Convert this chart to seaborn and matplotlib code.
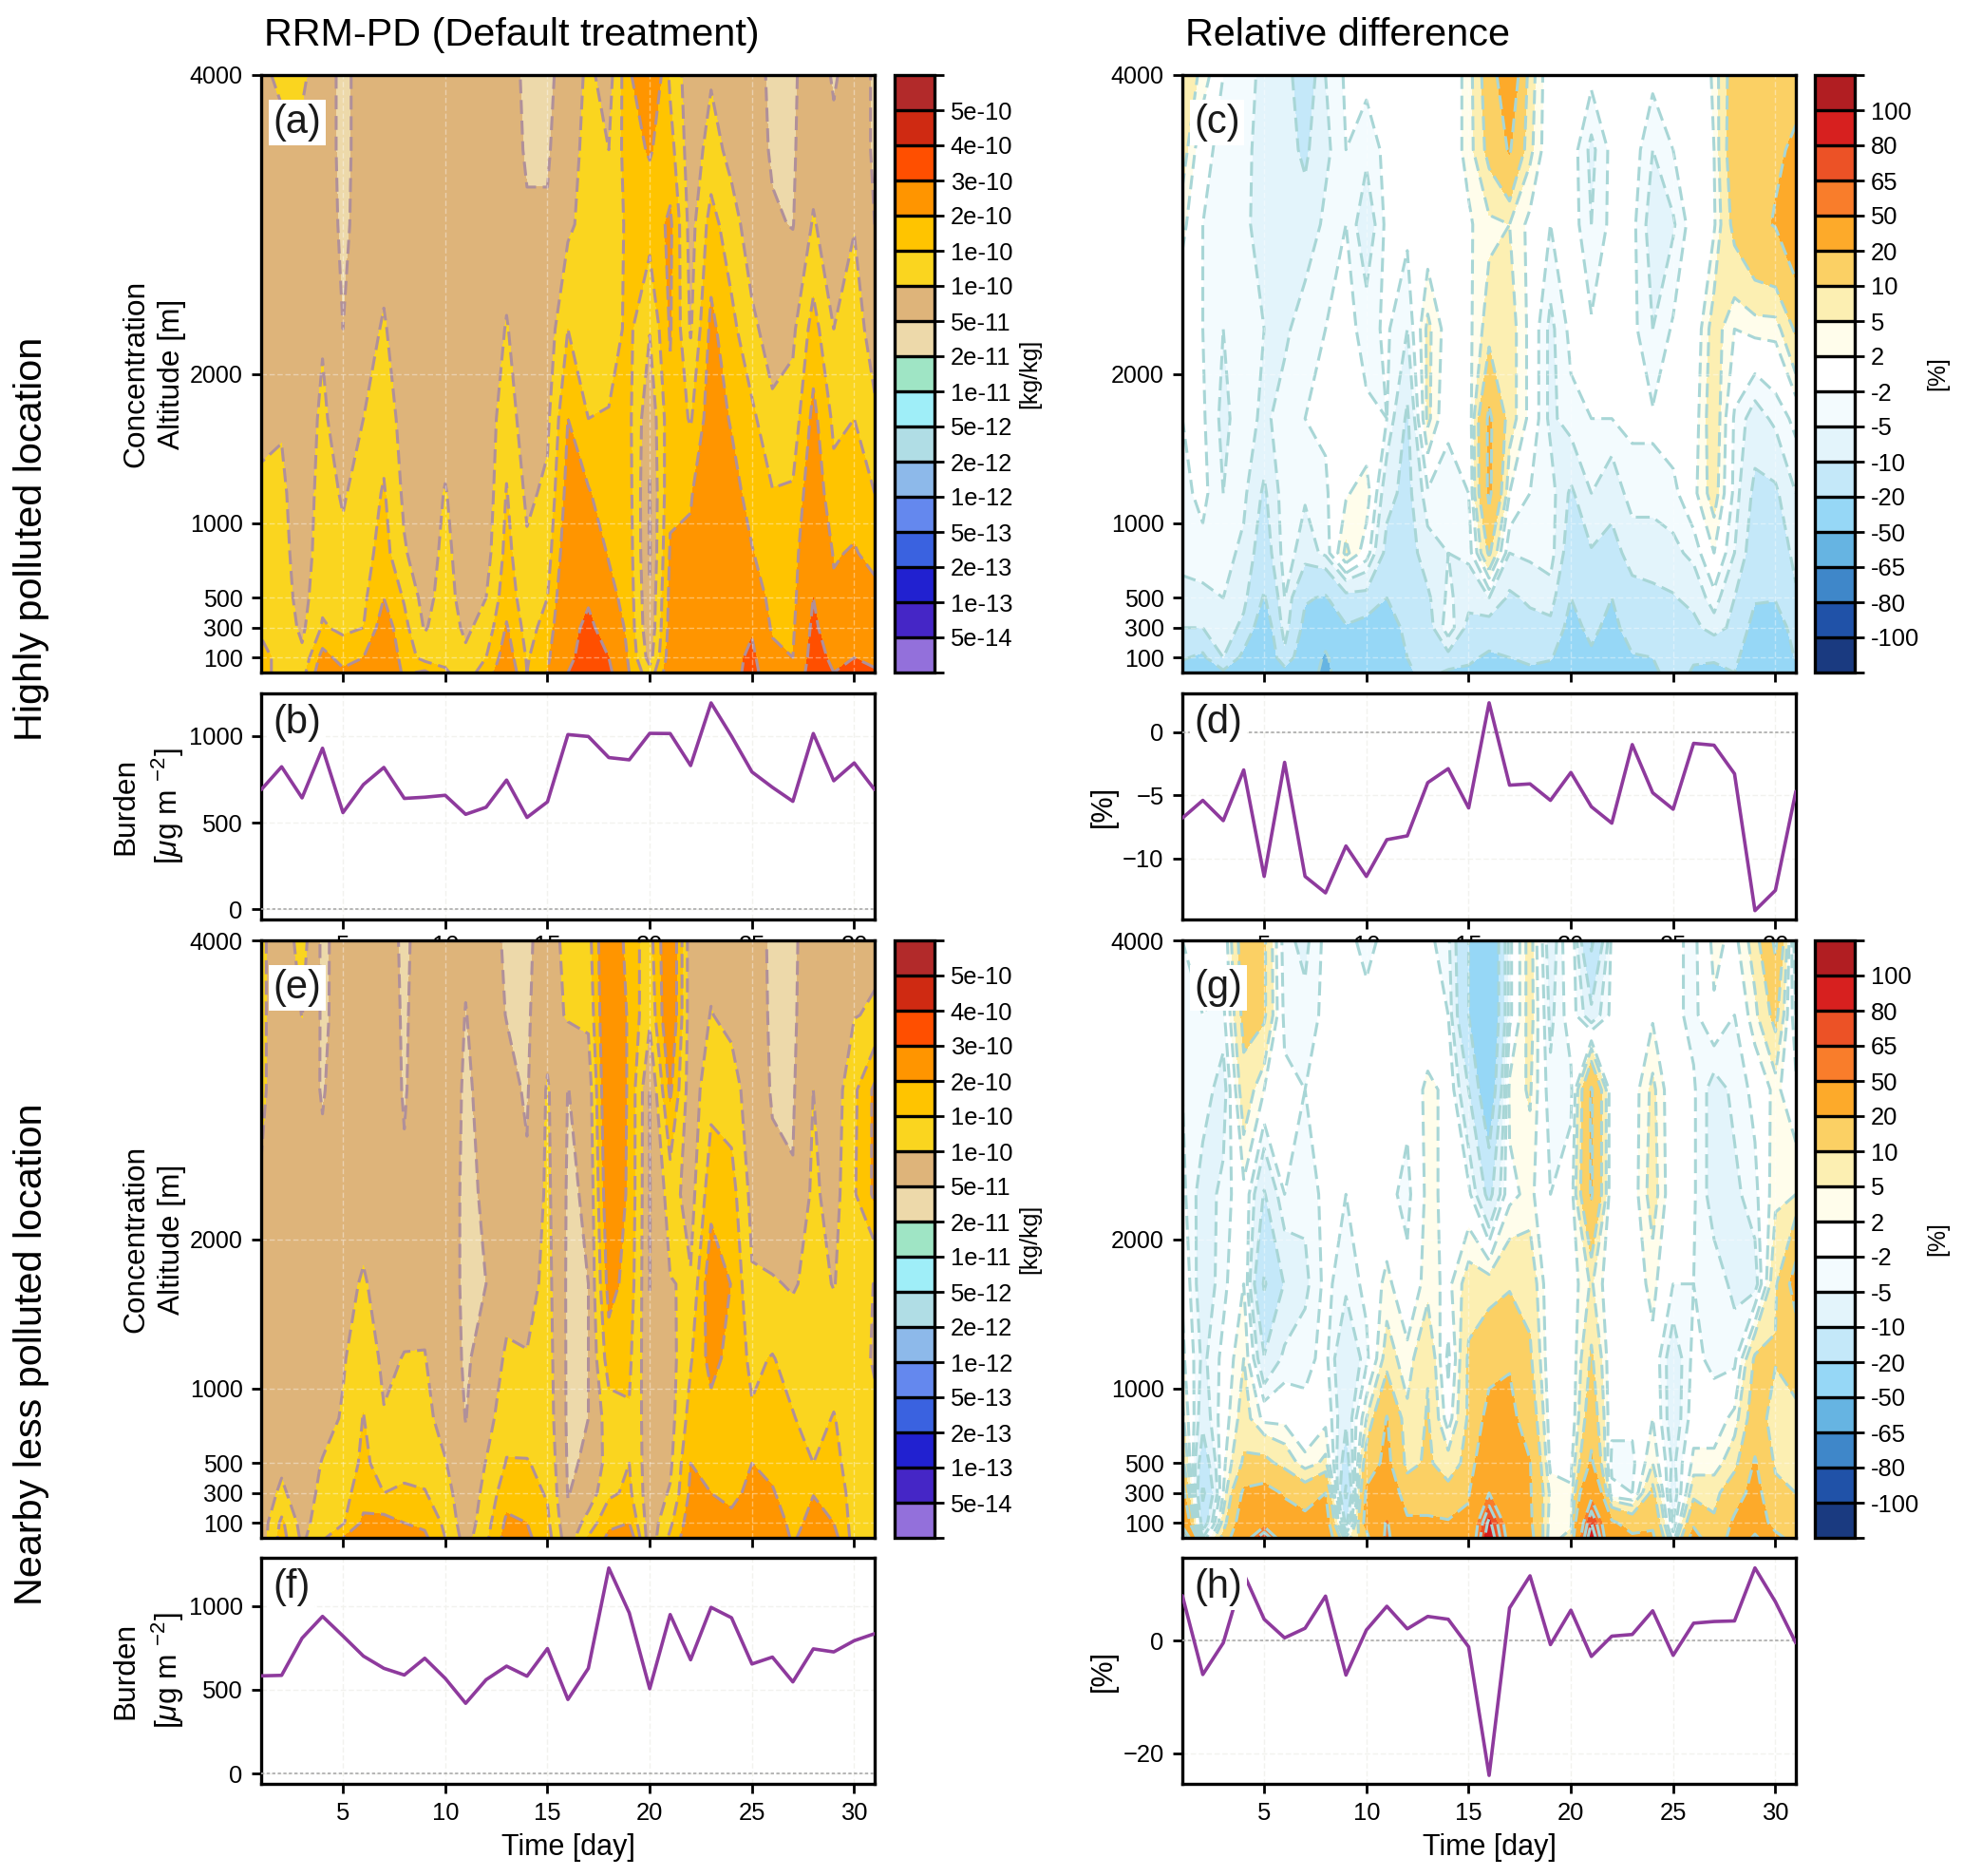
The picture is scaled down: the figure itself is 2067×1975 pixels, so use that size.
import numpy as np
import matplotlib
matplotlib.use('Agg')
import matplotlib.pyplot as plt
from matplotlib.cm import ScalarMappable
from matplotlib.colors import BoundaryNorm, ListedColormap
import seaborn as sns

# axes x and y
days = np.arange(1, 32)
alts = [0, 100, 300, 500, 800, 1200, 1700, 2300, 3000, 3500, 4000]

# contour levels, concentration in units of 1e-11 kg/kg
conc_levels = [0.005, 0.01, 0.02, 0.05, 0.1, 0.2, 0.5, 1, 2, 5, 10, 15, 20, 30, 40, 50]
conc_labels = ['5e-14', '1e-13', '2e-13', '5e-13', '1e-12', '2e-12', '5e-12', '1e-11',
               '2e-11', '5e-11', '1e-10', '1e-10', '2e-10', '3e-10', '4e-10', '5e-10']
conc_colors = ['#9370DB', '#4526C6', '#2121D0', '#3A62E0', '#6488EE', '#8DB9EA', '#B0DDE5', '#9FEEF8',
               '#9FE5C5', '#EDD9AA', '#DEB47A', '#FAD51F', '#FFC400', '#FF9500', '#FF4F00', '#CF2A12', '#B22A2A']

diff_levels = [-100, -80, -65, -50, -20, -10, -5, -2, 2, 5, 10, 20, 50, 65, 80, 100]
diff_labels = ['-100', '-80', '-65', '-50', '-20', '-10', '-5', '-2', '2', '5', '10', '20', '50', '65', '80', '100']
diff_colors = ['#1A3A80', '#2052A8', '#3F87C9', '#66B4E2', '#96D7F6', '#C4E8F9', '#E3F4FB', '#F3FBFE', '#FFFFFF',
               '#FFFDEB', '#FCEFB2', '#FBD064', '#FDAA2A', '#F97D2B', '#EC5226', '#D7201F', '#B11E22']

# one row per day, bottom to top of the alts list
conc_a = [
    [16, 16, 14.5, 13.5, 12.5, 10.7, 9, 8, 8, 8, 9],
    [14, 14, 13, 12.5, 12, 11, 9.5, 8, 8, 8.5, 11],
    [13, 11, 9, 8, 7, 7, 7, 7, 7, 8.5, 11],
    [24, 22, 15.5, 14, 13, 12, 11, 9.5, 8, 7, 7],
    [21, 18, 14, 12.5, 11, 9.5, 7, 5, 4, 4, 4],
    [22, 20, 15, 14, 13, 12, 10, 8, 7, 6.5, 6.5],
    [26, 25, 23, 20, 17, 15.5, 13, 10.5, 8, 7, 7],
    [19, 18, 16.5, 14.5, 10.5, 9, 8, 7, 7, 7, 7],
    [21, 13, 9.5, 8, 7, 7, 7, 7, 7, 7, 7],
    [15.5, 14, 13, 12.5, 11.5, 10.3, 8, 7, 7, 7, 7],
    [13, 11, 9, 7.5, 7, 7, 7, 7, 7, 7, 7],
    [17, 15, 12, 10, 8, 7, 7, 7, 7, 7, 7],
    [25, 23, 20.5, 18, 16.5, 15.3, 13, 10.3, 8, 7, 7],
    [15, 14.5, 13, 12, 10.8, 9, 7, 7, 5.5, 4.5, 4],
    [20, 19, 17, 15, 13, 11, 9, 7, 5.5, 4.5, 4],
    [30, 28, 27, 26, 24, 22, 20, 15, 9, 8, 7],
    [36, 34, 32, 29, 24, 20.5, 15, 13, 12, 11.5, 11],
    [32, 30, 26, 22, 19.5, 17, 15.3, 13, 11, 10, 8],
    [20, 19, 18, 17.5, 17, 16.5, 16, 16, 16.5, 18, 19],
    [12, 8, 6, 5.5, 4.5, 4.7, 6, 10.3, 17, 20.5, 28],
    [24, 23, 22, 21.5, 20.5, 19, 18.5, 20.5, 21, 17, 14],
    [24, 23, 22, 21.5, 21, 19.5, 14.5, 9.5, 8, 7, 7],
    [28, 28, 27, 27, 26, 25, 23, 21.3, 17, 12, 9.5],
    [27, 27, 26, 25, 24, 22, 19.5, 16.5, 12, 8.5, 7.5],
    [33, 32, 29, 24, 20.3, 18, 16.2, 11, 7.5, 7, 7],
    [24, 22, 19, 18, 17, 15.3, 11, 8, 5.5, 4.5, 4],
    [21, 20, 19, 18, 17, 15.6, 12, 9, 4.8, 4.5, 4.3],
    [36, 34, 32, 30, 28, 24, 21.5, 17, 10.5, 8, 7.5],
    [30, 28, 24, 21, 19.5, 16.5, 14, 10, 7, 6, 4.5],
    [32, 30, 26, 23, 20.5, 17.5, 15, 12, 9.8, 7, 7],
    [31, 28, 25, 22, 18, 15, 10.8, 8, 5, 4.5, 4.5],
]

conc_e = [
    [7, 7, 7, 7, 7, 7, 7.5, 9.5, 11, 11, 11],
    [17, 16, 11, 9, 7, 7, 7, 7, 7, 7, 7],
    [9, 8, 7, 7, 7, 7, 7, 7, 7, 10.1, 12],
    [14, 13, 11.5, 10.3, 8, 7, 7, 6, 4.7, 4.3, 4],
    [20, 14.5, 13, 12, 10.5, 9.5, 8.5, 8, 7, 6.5, 7],
    [22, 21, 18, 16, 15.2, 13, 10.5, 8, 7, 7, 7],
    [23, 22, 15, 13, 10.3, 9, 8, 7, 7, 7, 7],
    [22, 20, 16, 13, 12, 10.2, 8, 5.5, 4.7, 4.5, 4.2],
    [21, 19, 15.3, 13, 11.5, 10.2, 8.5, 7, 7, 7, 7],
    [15, 14, 12, 10.3, 8, 7, 7, 7, 7, 7, 7],
    [8, 7, 6.5, 6, 4.9, 4.5, 4.2, 4.2, 4.5, 4.9, 5.5],
    [14, 13, 11.5, 10.2, 8, 6.5, 5, 5.5, 6, 6.5, 7],
    [22, 21, 18, 15.3, 13, 10.8, 8, 7, 6, 4.9, 4.3],
    [21, 20, 17, 15.3, 12.5, 10.3, 8, 5.5, 4.6, 4.4, 4.2],
    [17, 16, 14.5, 13.5, 12.5, 12, 11.5, 11, 10.5, 8, 7],
    [7, 6, 4.8, 4.5, 4.2, 4.2, 4.2, 4.4, 4.9, 10.5, 12],
    [15.5, 12, 7, 5.5, 5, 5, 5, 5.5, 7, 11, 13],
    [21, 19, 14, 12, 12.5, 17.5, 22, 25, 27, 27, 27],
    [24, 20, 16, 15, 14.5, 16, 18, 19, 19, 19, 17],
    [7, 7, 7, 7, 7, 6, 4.9, 4.8, 5, 11, 13],
    [16, 14, 10.5, 9, 8, 8, 9.8, 12, 21, 26, 26],
    [24, 23, 21, 20, 17, 14.5, 10.5, 8, 7, 7, 7],
    [28, 24, 20, 18.5, 18, 22, 24, 18, 13.5, 10.2, 8.5],
    [24, 22, 18, 17, 17, 18, 19.8, 17, 12.5, 8.5, 7.5],
    [28, 25, 22, 20, 15.5, 14, 10.5, 8.5, 7, 7, 7],
    [26, 24, 20.5, 18.5, 17, 15.3, 10.5, 5.8, 4.7, 4.4, 4.2],
    [19, 18, 17, 16, 15.3, 13, 9.5, 5.3, 4.5, 4.3, 4.2],
    [24, 22, 19.8, 15, 13, 12, 11.5, 11, 10, 8, 7.5],
    [22, 20, 18, 16.5, 15.3, 12.5, 9.8, 8, 7, 7, 7],
    [13, 13, 13, 12.5, 12, 12, 12.5, 14.5, 14, 9.8, 8],
    [13, 13, 12.5, 12, 11, 9.5, 9.8, 21, 21, 10.5, 9],
]

diff_c = [
    [-24, -19, -10, -6, -4, -3, -2, -1, 3, 7, 8],
    [-30, -22, -10, -6, -3, -1, -1.5, -2, -2, -1, 4],
    [-22, -10, -6, -5, -3.5, -5, -6, -5, -4, -3, -2],
    [-30, -23, -12, -8, -6, -4, -3, -3, -4, -3, -2],
    [-35, -33, -28, -21, -14, -11, -6, -5, -7, -8, -7],
    [-25, -12, -7, -5, -3, -2.5, -3, -6, -8, -8, -7],
    [-35, -30, -23, -19, -7, -4.5, -2, -2.5, -8, -11, -15],
    [-58, -54, -35, -21, -4, -2.5, -1.5, -2, -4, -6, -5],
    [-30, -28, -21, -12, 6, 1.5, -1, -1, -2, -2, -1.5],
    [-35, -32, -25, -12, 0, 4, -1.5, -3, -8, -4, -1],
    [-33, -30, -28, -20, -12, -8, -2, -1.5, -1, -1, -1],
    [-22, -20, -16, -14, -13, -12, -11, -5, -1, -1, -1],
    [-16, -15, -13, -11, -7, -2.5, 6, 6, -1, -1, -2],
    [-22, -12, -2, -4, -5, -3, -1.5, 0, 0, 0, 0],
    [-22, -18, -12, -8, -4, -2, -1, 1, 1.5, 3, 3],
    [-25, -22, -13, -5, 11, 22, 22, 7, 4, 12, 14],
    [-22, -20, -14, -11, -5, 2, 7, 7, 5, 21, 30],
    [-22, -18, -12, -9, -4, -2, 1, 1, 1, 6, 7],
    [-24, -19, -12, -7, -3, -3, -6, -6, -2, -1, -1],
    [-30, -28, -24, -20, -14, -11, -3, -1, 0, 0, 0],
    [-23, -22, -17, -14, -10.5, -5, -2, -1.5, -5, -6, -1],
    [-30, -28, -24, -20, -12, -8, -2, -1, -1, -1, -1],
    [-24, -21, -14, -12, -8, -3, -1.5, -1, -1, 0, 0],
    [-22, -20, -12, -11, -8, -3, -1.5, -5, -7, -5, -1],
    [-16, -15, -13, -10.5, -6, -3, 0, -1.5, -5.5, -2, -0.5],
    [-21, -19, -12, -8, -4, 1, 0, -1, 0, 0, -1],
    [-22, -19, -7, -3, 2, 7, 8, 7, 1.5, 2, 2.5],
    [-20, -17, -12, -10, -5, -3, -2.5, 2, 12, 15, 14],
    [-33, -30, -24, -19, -14, -11.5, -7, 3, 18, 18, 18],
    [-33, -32, -28, -19, -15, -11, -4, 3, 20.5, 19, 17],
    [-24, -19, -14, -11, -8, -5, -1, 11, 30, 21, 18],
]

diff_g = [
    [80, 40, 25, 12, 6, 3, 1.5, -1, -2, -2, -2],
    [-5, -15, -22, -15, -8, -6, -8, -7, -3, -2, -1],
    [12, 7, 2, 1, 0, -1, -3, -4, -7, -3, -1],
    [35, 28, 22, 11, 7, 5, 2, 1, 8, 12, 14],
    [80, 40, 24, 12, 1, -9.5, -21, -10.5, 2, 11, 11],
    [30, 25, 19, 8, 1, -4, -9.5, -2, -1, -3, -4],
    [28, 24, 14, 3, -1, -3, -6, -4, -2, -4, -6],
    [30, 27, 20, 6, 1, -1, -1, -1, -1, -1, -1],
    [2, -12, -22, -14, -9, -10, -4, -2, -1, -1, -1],
    [15, 25, 22, 14, 5, -3, -1, -1.5, -1, -1, -3],
    [55, 52, 30, 23, 20.5, 7, 3, -1, -1, -1, -1],
    [25, 22, 14, 8, 6, 3, -1, -3, -1, -1.5, -1.5],
    [24, 22, 14, 11, 10.5, 9.5, 3.5, 3, 3, -1, -1],
    [24, 21, 12, 7, 0, -3, 1, 1, 1, -2, -4],
    [25, 22, 19, 12, 11, 11, 7, -1, -10, -20, -20],
    [95, 85, 50, 38, 24, 16, 7, -12, -30, -35, -35],
    [40, 35, 28, 25, 23, 19, 9, 1, 3, -3, -3],
    [24, 22, 21, 20.5, 15, 11, 8, 3, 5.5, 7, 7],
    [2, 3, 4, 1, 0, -1, -1, -2, -4, -6, -8],
    [8, 3, 2.5, 1, -1, -1, 0, 0, -3, 0, 2],
    [95, 80, 42, 22, 15, 11, 5.5, 21, 21, -8, -22],
    [25, 22, -1, -3, -1, -1, -1, -1, -1, -1, -1],
    [22, 15, -2, -3, -1, -1, 0, 0, 0, -1, -1],
    [22, 18, 12, 5, 2, 1, 3, 7, 6, 1.5, -1],
    [0, -5, -8, -6, -8, -8, -2, -1, -1, -1, -1],
    [25, 18, 8, 3, 0, -1, -2, -1.5, -1.5, -3, -3],
    [12, 11, 8, 3, 0, -3, -3, -7, -7, 1.5, 3],
    [25, 22, 15, 8, 3, -3, -6, -6, -4, -2, 1],
    [55, 35, 24, 21, 14, 11, -7, -3, -1, 4, 7],
    [26, 12, 12, 9, 7, 10.5, 9, 4, 3, 12, 22],
    [12, 12, 10, 8, 9, 12, 25, 5, -1, -5, -8],
]

burden_b = [690, 823, 643, 930, 558, 720, 819, 640, 647, 658, 548, 589, 746, 530, 620, 1009,
            998, 876, 863, 1016, 1015, 830, 1192, 1000, 793, 704, 623, 1015, 742, 845, 690]
burden_f = [583, 586, 808, 938, 821, 701, 628, 588, 688, 568, 419, 560, 641, 581, 746, 442,
            628, 1227, 959, 506, 949, 679, 992, 930, 654, 695, 547, 744, 726, 793, 835]
rel_d = [-6.8, -5.4, -7, -3, -11.4, -2.4, -11.4, -12.7, -9, -11.4, -8.5, -8.2, -4, -2.9, -6, 2.3,
         -4.2, -4.1, -5.4, -3.2, -5.9, -7.2, -1, -4.8, -6.1, -0.9, -1.05, -3.3, -14.1, -12.5, -4.7]
rel_h = [8, -6, -0.4, 11.9, 3.8, 0.5, 2.2, 7.9, -6.1, 1.9, 6.1, 2.1, 4.3, 3.8, -1.1, -23.9,
         5.8, 11.5, -0.7, 5.4, -2.8, 0.8, 1.1, 5.3, -2.6, 3.1, 3.4, 3.5, 12.9, 6.9, -0.4]

sns.set_theme(style='ticks', rc={'axes.linewidth': 1.2, 'xtick.major.width': 1.0, 'ytick.major.width': 1.0,
                                 'xtick.major.size': 3.5, 'ytick.major.size': 3.5,
                                 'text.color': 'black', 'axes.labelcolor': 'black', 'axes.edgecolor': 'black',
                                 'xtick.color': 'black', 'ytick.color': 'black'})
plt.rcParams['font.family'] = ['Liberation Sans', 'DejaVu Sans']
plt.rcParams['mathtext.fontset'] = 'custom'
plt.rcParams['mathtext.rm'] = 'Liberation Sans'
plt.rcParams['mathtext.it'] = 'Liberation Sans:italic'
plt.rcParams['mathtext.default'] = 'regular'

W, H = 2067, 1975
fig = plt.figure(figsize=(W / 200, H / 200), dpi=200)


def box(x0, x1, y0, y1, z=1):
    return fig.add_axes([x0 / W, 1 - y1 / H, (x1 - x0) / W, (y1 - y0) / H], zorder=z)


def label_panel(ax, txt, dy):
    ax.annotate(txt, xy=(0, 1), xycoords='axes fraction', xytext=(4.5, dy), textcoords='offset points',
                fontsize=15, ha='left', va='center', color='k', zorder=20,
                bbox=dict(fc='white', ec='none', pad=1.5))


def contour_panel(ax, cax, z, levels, colors, labels, line_color, unit, unit_x, txt):
    z = np.array(z).T
    ax.contourf(days, alts, z, levels=levels, colors=colors, extend='both')
    ax.contour(days, alts, z, levels=levels, colors=line_color, linewidths=1.1,
               linestyles=[(0, (4.8, 2.3))])
    ax.set_xlim(1, 31)
    ax.set_ylim(0, 4000)
    ax.set_xticks(range(5, 31, 5))
    ax.set_yticks([100, 300, 500, 1000, 2000, 4000])
    ax.tick_params(labelsize=9, labelbottom=False)
    ax.set_axisbelow(False)
    ax.grid(True, color='white', alpha=0.4, lw=0.5, ls=(0, (4, 2)))
    for s in ax.spines.values():
        s.set_zorder(10)
    label_panel(ax, txt, -18)

    # colour bar with equal boxes, labelled on the inner edges
    n = len(colors)
    sm = ScalarMappable(norm=BoundaryNorm(np.arange(n + 1), n), cmap=ListedColormap(colors))
    cb = fig.colorbar(sm, cax=cax, drawedges=True, ticks=np.arange(n + 1))
    cb.ax.set_yticklabels([''] + labels + [''])
    cb.ax.tick_params(labelsize=9.2, length=3.5, width=1, pad=2.5)
    cb.outline.set_linewidth(1.2)
    cb.dividers.set_linewidth(1.2)
    cb.set_label(unit, fontsize=9, rotation=90)
    cb.ax.yaxis.set_label_coords(unit_x, 0.5)


def line_panel(ax, y, ylim, yticks, txt, pad):
    sns.lineplot(x=days, y=y, ax=ax, color='#8E3A9D', lw=1.3, zorder=5)
    ax.axhline(0, color='#aaaaaa', lw=0.6, ls=(0, (2, 1.5)), zorder=3)
    ax.set_xlim(1, 31)
    ax.set_ylim(*ylim)
    ax.set_xticks(range(5, 31, 5))
    ax.set_yticks(yticks)
    ax.tick_params(labelsize=9.2)
    ax.tick_params(axis='x', pad=pad)
    ax.grid(True, color='#f2f2ee', lw=0.5, ls=(0, (4, 2)))
    label_panel(ax, txt, -11)


xl, xr = (275, 921), (1245, 1891)
cl, cr = (942, 984), (1911, 1953)
rows = {'top': (79, 708), 'low': (990, 1619)}

ax_a = box(*xl, *rows['top'], 3)
ax_b = box(*xl, 730, 968, 2)
ax_e = box(*xl, *rows['low'], 3)
ax_f = box(*xl, 1640, 1878, 2)
ax_c = box(*xr, *rows['top'], 3)
ax_d = box(*xr, 730, 968, 2)
ax_g = box(*xr, *rows['low'], 3)
ax_h = box(*xr, 1640, 1878, 2)

contour_panel(ax_a, box(*cl, *rows['top'], 3), conc_a, conc_levels, conc_colors, conc_labels, '#B0909A', '[kg/kg]', 3.1, '(a)')
contour_panel(ax_e, box(*cl, *rows['low'], 3), conc_e, conc_levels, conc_colors, conc_labels, '#B0909A', '[kg/kg]', 3.1, '(e)')
contour_panel(ax_c, box(*cr, *rows['top'], 3), diff_c, diff_levels, diff_colors, diff_labels, '#A8D6D6', '[%]', 2.8, '(c)')
contour_panel(ax_g, box(*cr, *rows['low'], 3), diff_g, diff_levels, diff_colors, diff_labels, '#A8D6D6', '[%]', 2.8, '(g)')

line_panel(ax_b, burden_b, (-60, 1247), [0, 500, 1000], '(b)', 2.2)
line_panel(ax_f, burden_f, (-62, 1288), [0, 500, 1000], '(f)', 3.5)
line_panel(ax_d, rel_d, (-14.8, 3.04), [-10, -5, 0], '(d)', 2.2)
line_panel(ax_h, rel_h, (-25.4, 14.7), [-20, 0], '(h)', 3.5)

for ax in (ax_a, ax_e):
    ax.set_ylabel('Concentration\nAltitude [m]', fontsize=11.4, linespacing=1.35)
    ax.yaxis.set_label_coords(-0.122, 0.5)
for ax in (ax_b, ax_f):
    ax.set_ylabel('Burden\n[$\\mathit{\\mu}$g m $^{-2}$]', fontsize=11.4, linespacing=1.35)
    ax.yaxis.set_label_coords(-0.122, 0.5)
for ax in (ax_d, ax_h):
    ax.set_ylabel('[%]', fontsize=11)
    ax.yaxis.set_label_coords(-0.105, 0.5)
for ax in (ax_f, ax_h):
    ax.set_xlabel('Time [day]', fontsize=11, labelpad=3)

ax_a.set_title('RRM-PD (Default treatment)', loc='left', x=0.004, fontsize=14.9, pad=11)
ax_c.set_title('Relative difference', loc='left', x=0.004, fontsize=14.9, pad=11)

fig.text(33 / W, 1 - 567 / H, 'Highly polluted location', rotation=90, fontsize=14.9, ha='center', va='center')
fig.text(33 / W, 1 - 1426 / H, 'Nearby less polluted location', rotation=90, fontsize=14.9, ha='center', va='center')

fig.savefig('out.png', dpi=200, facecolor='white')
